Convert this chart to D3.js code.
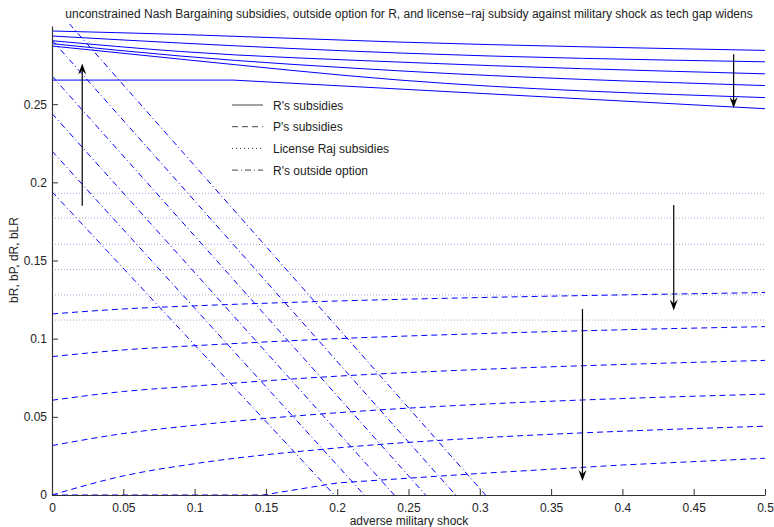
<!DOCTYPE html>
<html>
<head>
<meta charset="utf-8">
<title>nash bargaining subsidies</title>
<style>
  body { margin: 0; background: #fff; }
  svg { display: block; }
  text { font-family: "Liberation Sans", Arial, sans-serif; fill: #222; }
</style>
<script src="https://cdn.jsdelivr.net/npm/d3@7"></script>
</head>
<body>
<script>
// ---- data ----
const xTicks = [0, 0.05, 0.1, 0.15, 0.2, 0.25, 0.3, 0.35, 0.4, 0.45, 0.5];
const yTicks = [0, 0.05, 0.1, 0.15, 0.2, 0.25];

// R's subsidies (solid), sampled at rShock
const rShock = [0, 0.09, 0.244, 0.5];
const rSubsidies = [
  [0.2968, 0.2946, 0.2897, 0.2844],
  [0.2936, 0.2891, 0.2827, 0.2771],
  [0.2906, 0.2837, 0.2769, 0.2694],
  [0.2887, 0.2808, 0.2713, 0.2619],
  [0.2872, 0.2788, 0.2654, 0.2542]
];
// the widest gap: flat, then falling
const rKinkShock = [0, 0.127, 0.5];
const rKinkSubsidy = [0.2654, 0.2654, 0.2471];

// P's subsidies (dashed)
const pShock = [0, 0.05, 0.1, 0.2, 0.3, 0.4, 0.5];
const pSubsidies = [
  [0.1158, 0.1190, 0.1210, 0.1241, 0.1263, 0.1280, 0.1295],
  [0.0885, 0.0928, 0.0955, 0.1000, 0.1032, 0.1057, 0.1077],
  [0.0606, 0.0662, 0.0697, 0.0760, 0.0803, 0.0835, 0.0861],
  [0.0316, 0.0393, 0.0446, 0.0526, 0.0580, 0.0617, 0.0645],
  [0.0000, 0.0122, 0.0200, 0.0301, 0.0365, 0.0408, 0.0440]
];
const pLastShock = [0, 0.148, 0.2, 0.3, 0.4, 0.5];
const pLastSubsidy = [0, 0, 0.0077, 0.0138, 0.0192, 0.0235];

// License Raj subsidies (dotted, flat)
const licenseRaj = [0.1930, 0.1771, 0.1603, 0.1442, 0.1280, 0.1119];

// R's outside option (dash-dot): value at zero shock, shock where it reaches zero
const outsideStart = [0.194, 0.220, 0.244, 0.268, 0.291, 0.314];
const outsideEnd = [0.198, 0.219, 0.240, 0.262, 0.283, 0.304];

// arrows: [shock, from value, to value]
const arrows = [
  [0.0212, 0.185, 0.276],
  [0.478, 0.282, 0.2475],
  [0.436, 0.1855, 0.118],
  [0.372, 0.119, 0.009]
];

const legendItems = [
  { label: "R's subsidies", dash: null },
  { label: "P's subsidies", dash: "6,4" },
  { label: "License Raj subsidies", dash: "1,3" },
  { label: "R's outside option", dash: "6,3,1,3" }
];

// ---- chart ----
const width = 774, height = 527;
const margin = { top: 26, right: 9, bottom: 32, left: 52 };
const plotW = width - margin.left - margin.right;
const plotH = height - margin.top - margin.bottom;
const fontSize = 12;

const svg = d3.select('body').append('svg')
  .attr('width', width)
  .attr('height', height);

const g = svg.append('g')
  .attr('transform', `translate(${margin.left},${margin.top})`);

const x = d3.scaleLinear().domain([0, 0.5]).range([0, plotW]);
const y = d3.scaleLinear().domain([0, 0.3]).range([plotH, 0]);

const blue = '#0000ff';

g.append('clipPath').attr('id', 'plotclip')
  .append('rect').attr('y', -2).attr('width', plotW + 2).attr('height', plotH + 2);

const lines = g.append('g').attr('clip-path', 'url(#plotclip)');

const line = d3.line().x(d => x(d[0])).y(d => y(d[1])).curve(d3.curveMonotoneX);
const straight = d3.line().x(d => x(d[0])).y(d => y(d[1]));

// License Raj
lines.selectAll('.lr').data(licenseRaj).join('line')
  .attr('class', 'lr')
  .attr('x1', x(0)).attr('x2', x(0.5))
  .attr('y1', d => y(d)).attr('y2', d => y(d))
  .attr('stroke', '#a9a3dc').attr('stroke-width', 1)
  .attr('stroke-dasharray', '1,2');

// outside option
lines.selectAll('.oo').data(outsideStart).join('path')
  .attr('class', 'oo')
  .attr('d', (d, i) => straight([[0, d], [outsideEnd[i], 0]]))
  .attr('fill', 'none').attr('stroke', blue).attr('stroke-width', 1)
  .attr('stroke-dasharray', '6,3,1,3');

// P's subsidies
lines.selectAll('.ps').data(pSubsidies).join('path')
  .attr('class', 'ps')
  .attr('d', d => line(d.map((v, i) => [pShock[i], v])))
  .attr('fill', 'none').attr('stroke', blue).attr('stroke-width', 1)
  .attr('stroke-dasharray', '6,4');

lines.append('path')
  .attr('d', straight(pLastShock.map((s, i) => [s, pLastSubsidy[i]])))
  .attr('fill', 'none').attr('stroke', blue).attr('stroke-width', 1)
  .attr('stroke-dasharray', '6,4');

// R's subsidies
lines.selectAll('.rs').data(rSubsidies).join('path')
  .attr('class', 'rs')
  .attr('d', d => line(d.map((v, i) => [rShock[i], v])))
  .attr('fill', 'none').attr('stroke', blue).attr('stroke-width', 1);

lines.append('path')
  .attr('d', straight(rKinkShock.map((s, i) => [s, rKinkSubsidy[i]])))
  .attr('fill', 'none').attr('stroke', blue).attr('stroke-width', 1);

// axes
const fmt = d => String(+d.toFixed(2));
const xAxis = g.append('g')
  .attr('transform', `translate(0,${plotH})`)
  .call(d3.axisBottom(x).tickValues(xTicks).tickSizeInner(-6).tickSizeOuter(0).tickPadding(8).tickFormat(fmt));
const yAxis = g.append('g')
  .call(d3.axisLeft(y).tickValues(yTicks).tickSizeInner(-6).tickSizeOuter(0).tickPadding(5).tickFormat(fmt));
[xAxis, yAxis].forEach(a => {
  a.select('.domain').attr('stroke', '#333').attr('stroke-width', 1.2);
  a.selectAll('.tick line').attr('stroke', '#333');
  a.selectAll('.tick text').attr('font-size', fontSize).attr('fill', '#222')
    .attr('font-family', '"Liberation Sans", Arial, sans-serif');
});

// arrows
const arrowG = g.append('g');
arrows.forEach(([s, v0, v1]) => {
  const ax = x(s), ay0 = y(v0), ay1 = y(v1);
  const dir = ay1 < ay0 ? -1 : 1;
  arrowG.append('line')
    .attr('x1', ax).attr('x2', ax)
    .attr('y1', ay0).attr('y2', ay1 - dir * 6)
    .attr('stroke', '#000').attr('stroke-width', 1.2);
  arrowG.append('path')
    .attr('d', `M${ax},${ay1} L${ax - 4},${ay1 - dir * 11} L${ax},${ay1 - dir * 7} L${ax + 4},${ay1 - dir * 11} Z`)
    .attr('fill', '#000');
});

// legend
const leg = svg.append('g').attr('transform', 'translate(232,105)');
legendItems.forEach((it, i) => {
  const ly = i * 21.7;
  leg.append('line')
    .attr('x1', 0).attr('x2', 31).attr('y1', ly).attr('y2', ly)
    .attr('stroke', '#444').attr('stroke-width', 1)
    .attr('stroke-dasharray', it.dash);
  leg.append('text')
    .attr('x', 41).attr('y', ly + 4.5)
    .attr('font-size', fontSize)
    .text(it.label);
});

// titles
svg.append('text')
  .attr('x', 409).attr('y', 18)
  .attr('text-anchor', 'middle').attr('font-size', fontSize)
  .text('unconstrained Nash Bargaining subsidies, outside option for R, and license\u2212raj subsidy against military shock as tech gap widens');

svg.append('text')
  .attr('x', 409).attr('y', 525)
  .attr('text-anchor', 'middle').attr('font-size', fontSize)
  .text('adverse military shock');

svg.append('text')
  .attr('transform', 'translate(18,260) rotate(-90)')
  .attr('text-anchor', 'middle').attr('font-size', fontSize)
  .text('bR, bP, dR, bLR');
</script>
</body>
</html>
